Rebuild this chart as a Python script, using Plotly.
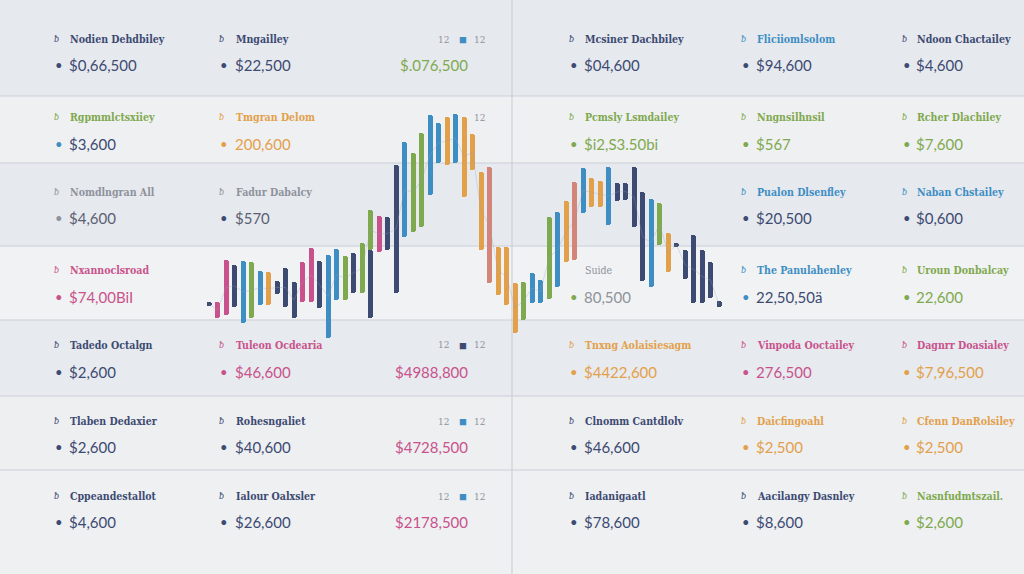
import plotly.graph_objects as go

# ---------------- DATA ----------------
# floating range bars (session, colour group, low, high)
bar_day = [1, 2, 3, 4, 5, 6, 7, 8, 9, 10, 11, 12, 13, 14, 15, 16, 17, 18, 19, 20, 20,
           21, 22, 23, 24, 25, 26, 27, 28, 29, 30, 31, 32, 33, 34, 35, 36, 37, 38, 39, 40,
           41, 42, 43, 44, 45, 46, 47, 48, 49, 50, 51, 52, 53, 54, 55, 56, 57, 58, 59, 60, 61]
bar_group = ["navy", "pink", "pink", "navy", "blue", "green", "blue", "orange", "navy", "navy",
             "navy", "pink", "pink", "navy", "blue", "blue", "green", "navy", "green", "green", "navy",
             "pink", "navy", "navy", "blue", "green", "green", "blue", "blue", "orange", "blue",
             "orange", "orange", "orange", "salmon", "orange", "orange", "orange", "green", "blue", "blue",
             "green", "blue", "orange", "salmon", "blue", "orange", "orange", "blue", "navy", "navy",
             "navy", "navy", "blue", "green", "orange", "navy", "navy", "navy", "navy", "navy", "navy"]
bar_low = [44, 32, 35, 43, 27, 32, 45, 45, 56, 43, 32, 48, 48, 42, 12, 50, 50, 57, 57, 100, 32,
           98, 100, 57, 113, 118, 123, 155, 187, 185, 187, 153, 180, 100, 67, 55, 45, 17, 30, 47, 47,
           51, 63, 88, 90, 137, 143, 143, 125, 149, 150, 123, 69, 63, 105, 78, 103, 71, 47, 47, 52, 43]
bar_high = [48, 48, 90, 85, 89, 88, 79, 78, 69, 82, 68, 88, 102, 89, 95, 101, 94, 97, 107, 140, 100,
            134, 133, 185, 208, 197, 217, 235, 227, 233, 236, 233, 216, 178, 183, 103, 103, 67, 68, 77, 70,
            133, 138, 149, 168, 182, 172, 169, 183, 167, 167, 183, 158, 151, 147, 117, 107, 100, 115, 100, 88, 49]

# text grid per column, one entry per row
col_A_labels = ["Nodien Dehdbiley", "Rgpmmlctsxiiey", "Nomdlngran All", "Nxannoclsroad",
                "Tadedo Octalgn", "Tlaben Dedaxier", "Cppeandestallot"]
col_A_values = ["$0,66,500", "$3,600", "$4,600", "$74,00BiI", "$2,600", "$2,600", "$4,600"]
col_B_labels = ["Mngailley", "Tmgran Delom", "Fadur Dabalcy", None,
                "Tuleon Ocdearia", "Rohesngaliet", "Ialour Oalxsler"]
col_B_values = ["$22,500", "200,600", "$570", None, "$46,600", "$40,600", "$26,600"]
col_C_values = ["$.076,500", None, None, None, "$4988,800", "$4728,500", "$2178,500"]
col_C_legend = ["12", "12", None, None, "12", "12", "12"]
col_D_labels = ["Mcsiner Dachbiley", "Pcmsly Lsmdailey", None, "Suide",
                "Tnxng Aolaisiesagm", "Clnomm Cantdlolv", "Iadanigaatl"]
col_D_values = ["$04,600", "$i2,S3.50bi", None, "80,500", "$4422,600", "$46,600", "$78,600"]
col_E_labels = ["Fliciiomlsolom", "Nngnsilhnsil", "Pualon Dlsenfley", "The Panulahenley",
                "Vinpoda Ooctailey", "Daicfingoahl", "Aacilangy Dasnley"]
col_E_values = ["$94,600", "$567", "$20,500", "22,50,50ä", "276,500", "$2,500", "$8,600"]
col_F_labels = ["Ndoon Chactailey", "Rcher Dlachiley", "Naban Chstailey", "Uroun Donbalcay",
                "Dagnrr Doasialey", "Cfenn DanRolsiley", "Nasnfudmtszail."]
col_F_values = ["$4,600", "$7,600", "$0,600", "22,600", "$7,96,500", "$2,500", "$2,600"]

# ---------------- STYLE ----------------
W, H = 1024, 574
C = {"navy": "#3d4a72", "blue": "#3e8ec4", "green": "#7fa94f", "orange": "#e3a04b",
     "pink": "#c9528c", "salmon": "#d3857a", "gray": "#8e929c", "dgray": "#5b6072"}

# tones per row: (label tone, value tone, bullet tone)
tone_A = [("navy", "navy", "navy"), ("green", "navy", "blue"), ("gray", "dgray", "gray"),
          ("pink", "pink", "pink"), ("navy", "navy", "navy"), ("navy", "navy", "navy"),
          ("navy", "navy", "navy")]
tone_B = [("navy", "navy", "navy"), ("orange", "orange", "orange"), ("gray", "dgray", "navy"), None,
          ("pink", "pink", "pink"), ("navy", "navy", "navy"), ("navy", "navy", "navy")]
tone_C = ["green", None, None, None, "pink", "pink", "pink"]
legend_sq = ["blue", None, None, None, "navy", "blue", "blue"]
tone_D = [("navy", "navy", "navy"), ("green", "green", "green"), None, ("gray", "gray", "green"),
          ("orange", "orange", "orange"), ("navy", "navy", "navy"), ("navy", "navy", "navy")]
tone_E = [("blue", "navy", "navy"), ("green", "green", "green"), ("blue", "navy", "navy"),
          ("blue", "navy", "blue"), ("pink", "pink", "pink"), ("orange", "orange", "orange"),
          ("navy", "navy", "navy")]
tone_F = [("navy", "navy", "navy"), ("green", "green", "green"), ("blue", "navy", "navy"),
          ("green", "green", "green"), ("pink", "orange", "orange"), ("orange", "orange", "orange"),
          ("green", "green", "green")]

row_label_y = [39, 117, 192, 270, 345, 421, 496]
row_value_y = [65, 144, 218, 297, 372, 447, 522]
band_edges = [0, 96, 163, 246, 320, 396, 470, 574]
band_colors = ["#e6e9ee", "#eff0f2", "#e6e9ee", "#f1f2f3", "#e7eaee", "#edeff1", "#eef0f2"]

LABEL_FONT = "DejaVu Serif Condensed, DejaVu Serif, serif"
VALUE_FONT = "Lato, Open Sans, sans-serif"

def px(x):
    return x / W

def py(y):
    return 1 - y / H

fig = go.Figure()

# faint connector through bar midpoints
seen = set()
mid_x, mid_y = [], []
for d, lo, hi in zip(bar_day, bar_low, bar_high):
    if d in seen:
        continue
    seen.add(d)
    mid_x.append(d)
    mid_y.append((lo + hi) / 2)
fig.add_trace(go.Scatter(x=mid_x, y=mid_y, mode="lines", xaxis="x2", yaxis="y2",
                         line=dict(color="rgba(150,158,178,0.30)", width=1),
                         hoverinfo="skip", showlegend=False))

# bars, one trace per colour group
for g in ["navy", "blue", "green", "orange", "pink", "salmon"]:
    idx = [i for i, gg in enumerate(bar_group) if gg == g]
    fig.add_trace(go.Bar(
        x=[bar_day[i] for i in idx],
        y=[bar_high[i] - bar_low[i] for i in idx],
        base=[bar_low[i] for i in idx],
        width=0.62,
        marker=dict(color=C[g], cornerradius=2, line=dict(width=0)),
        xaxis="x2", yaxis="y2", hoverinfo="skip", showlegend=False,
    ))

shapes = []
for i in range(len(band_colors)):
    shapes.append(dict(type="rect", xref="paper", yref="paper", x0=0, x1=1,
                       y0=py(band_edges[i + 1]), y1=py(band_edges[i]),
                       fillcolor=band_colors[i], line=dict(width=0), layer="below"))
for e in band_edges[1:-1]:
    shapes.append(dict(type="line", xref="paper", yref="paper", x0=0, x1=1,
                       y0=py(e), y1=py(e), line=dict(color="#cacfd9", width=1), layer="below"))
shapes.append(dict(type="line", xref="paper", yref="paper", x0=px(512), x1=px(512),
                   y0=0, y1=1, line=dict(color="#c6cbd7", width=1), layer="below"))

ann = []

def text(x, y, s, color, size, family, anchor="left", bold=False):
    if bold:
        s = "<b>" + s + "</b>"
    ann.append(dict(x=px(x), y=py(y), xref="paper", yref="paper", text=s, showarrow=False,
                    xanchor=anchor, yanchor="middle", align=anchor,
                    font=dict(color=color, size=size, family=family)))

def column(icon_x, text_x, labels, values, tones):
    for r in range(7):
        t = tones[r]
        if t is None:
            continue
        lt, vt, bt = t
        if labels[r] is not None:
            if labels[r] != "Suide":
                text(icon_x - 3, row_label_y[r], "<i>ƀ</i>", C[lt], 9, LABEL_FONT)
            text(text_x, row_label_y[r], labels[r], C[lt], 10.5, LABEL_FONT, bold=labels[r] != "Suide")
        if values[r] is not None:
            text(icon_x - 2, row_value_y[r], "•", C[bt], 13, VALUE_FONT)
            text(text_x - 1, row_value_y[r], values[r], C[vt], 15, VALUE_FONT)

column(55, 68, col_A_labels, col_A_values, tone_A)
column(220, 234, col_B_labels, col_B_values, tone_B)
column(570, 583, col_D_labels, col_D_values, tone_D)
column(742, 755, col_E_labels, col_E_values, tone_E)
column(903, 915, col_F_labels, col_F_values, tone_F)

for r in range(7):
    if col_C_values[r] is not None:
        text(470, row_value_y[r], col_C_values[r], C[tone_C[r]], 15, VALUE_FONT, anchor="right")
    if col_C_legend[r] is not None:
        if legend_sq[r] is not None:
            text(443, row_label_y[r], col_C_legend[r], C["gray"], 10, LABEL_FONT, anchor="center")
            text(463, row_label_y[r], "■", C[legend_sq[r]], 13, VALUE_FONT, anchor="center")
        text(479, row_label_y[r], col_C_legend[r], C["gray"], 10, LABEL_FONT, anchor="center")

fig.update_layout(
    width=W, height=H,
    margin=dict(l=0, r=0, t=0, b=0),
    paper_bgcolor="#eceef1", plot_bgcolor="rgba(0,0,0,0)",
    barmode="overlay", bargap=0,
    showlegend=False, hovermode=False,
    xaxis=dict(visible=False, range=[0, 1], fixedrange=True),
    yaxis=dict(visible=False, range=[0, 1], fixedrange=True),
    xaxis2=dict(visible=False, domain=[204.75 / W, 723.25 / W], range=[0.5, 61.5],
                anchor="y2", fixedrange=True),
    yaxis2=dict(visible=False, domain=[0, 1], range=[-224, 350], anchor="x2", fixedrange=True),
    shapes=shapes, annotations=ann,
)

fig.write_html("out.html", config={"displayModeBar": False})
